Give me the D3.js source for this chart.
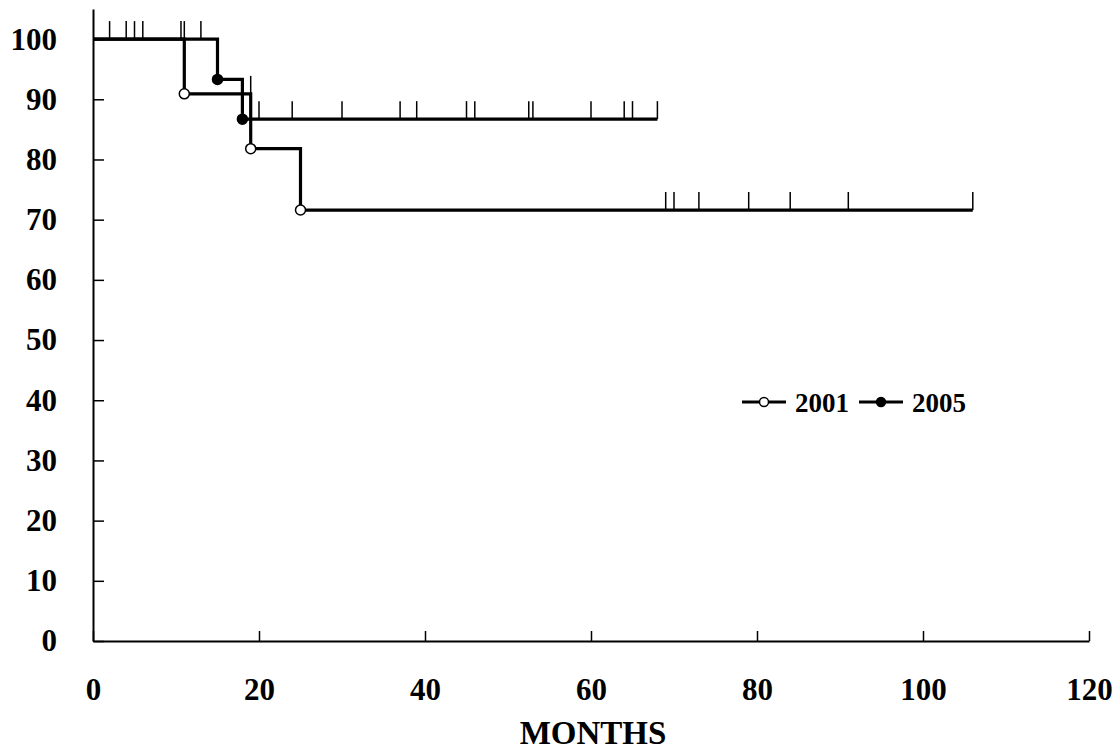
<!DOCTYPE html>
<html>
<head>
<meta charset="utf-8">
<script src="https://cdn.jsdelivr.net/npm/d3@7"></script>
<style>
  body { margin: 0; background: #fff; }
  svg text { font-family: "Liberation Serif", "Times New Roman", serif; font-weight: bold; fill: #000; }
</style>
</head>
<body>
<div id="chart"></div>
<script>
const width = 1114, height = 752
const margin = { left: 93, right: 25, top: 9, bottom: 111 }

// tick labels
const xTicks = [0, 20, 40, 60, 80, 100, 120]
const yTicks = [0, 10, 20, 30, 40, 50, 60, 70, 80, 90, 100]

// group 2001 (open circles)
const events2001 = [11, 19, 25]
const surv2001 = [90.9, 81.8, 71.6]
const censor2001 = [4, 6, 11, 19, 69, 70, 73, 79, 84, 91, 106]
const end2001 = 106

// group 2005 (filled circles)
const events2005 = [15, 18]
const surv2005 = [93.3, 86.7]
const censor2005 = [2, 5, 10.6, 13, 20, 24, 30, 37, 39, 45, 46, 52.5, 53, 60, 64, 65, 68]
const end2005 = 68

const groups = [
    { name: "2001", events: events2001, surv: surv2001, censor: censor2001, end: end2001, fill: "#fff" },
    { name: "2005", events: events2005, surv: surv2005, censor: censor2005, end: end2005, fill: "#000" }
]

let svg = d3.select("#chart")
    .append("svg")
    .attr("width", width)
    .attr("height", height)

let x = d3.scaleLinear().domain([0, 120]).range([margin.left, width - margin.right])
let y = d3.scaleLinear().domain([0, 105]).range([height - margin.bottom, margin.top])

// y axis, ticks point inward
let yAxis = svg.append("g")
    .attr("transform", `translate(${margin.left},0)`)
    .call(d3.axisLeft(y).tickValues(yTicks).tickSizeInner(-11).tickSizeOuter(0).tickPadding(36))
yAxis.select(".domain").attr("stroke-width", 2)
yAxis.selectAll(".tick line").attr("stroke-width", 1.5)
yAxis.selectAll("text").style("font-size", "31px").attr("font-family", null)

// x axis
let xAxis = svg.append("g")
    .attr("transform", `translate(0,${y(0)})`)
    .call(d3.axisBottom(x).tickValues(xTicks).tickSizeInner(-10).tickSizeOuter(0).tickPadding(37))
xAxis.select(".domain").attr("stroke-width", 2)
xAxis.selectAll(".tick line").attr("stroke-width", 1.5)
xAxis.selectAll("text").style("font-size", "31px").attr("font-family", null)

svg.append("text")
    .attr("x", 593)
    .attr("y", 744)
    .attr("text-anchor", "middle")
    .style("font-size", "33px")
    .text("MONTHS")

// level of the curve just before time t
function levelBefore(g, t) {
    let s = 100
    g.events.forEach((e, i) => { if (e < t) s = g.surv[i] })
    return s
}

let line = d3.line()
    .x(d => x(d[0]))
    .y(d => y(d[1]))
    .curve(d3.curveStepAfter)

groups.forEach(g => {
    let pts = [[0, 100]]
    g.events.forEach((e, i) => pts.push([e, g.surv[i]]))
    pts.push([g.end, g.surv[g.surv.length - 1]])

    svg.append("path")
        .datum(pts)
        .attr("d", line)
        .attr("fill", "none")
        .attr("stroke", "#000")
        .attr("stroke-width", 3.2)

    // censor marks
    svg.selectAll(null)
        .data(g.censor)
        .enter()
        .append("line")
        .attr("x1", d => x(d))
        .attr("x2", d => x(d))
        .attr("y1", d => y(levelBefore(g, d)))
        .attr("y2", d => y(levelBefore(g, d)) - 18)
        .attr("stroke", "#000")
        .attr("stroke-width", 1.5)

    svg.selectAll(null)
        .data(g.events.map((e, i) => [e, g.surv[i]]))
        .enter()
        .append("circle")
        .attr("cx", d => x(d[0]))
        .attr("cy", d => y(d[1]))
        .attr("r", 5)
        .attr("fill", g.fill)
        .attr("stroke", "#000")
        .attr("stroke-width", 1.5)
})

// legend
let legend = svg.append("g").attr("transform", "translate(742,402)")
groups.forEach((g, i) => {
    let lg = legend.append("g").attr("transform", `translate(${i * 117},0)`)
    lg.append("line").attr("x1", 0).attr("x2", 44).attr("stroke", "#000").attr("stroke-width", 3)
    lg.append("circle").attr("cx", 22).attr("r", 4.5).attr("fill", g.fill).attr("stroke", "#000").attr("stroke-width", 1.5)
    lg.append("text").attr("x", 53).attr("y", 9.5).style("font-size", "27px").text(g.name)
})
</script>
</body>
</html>
